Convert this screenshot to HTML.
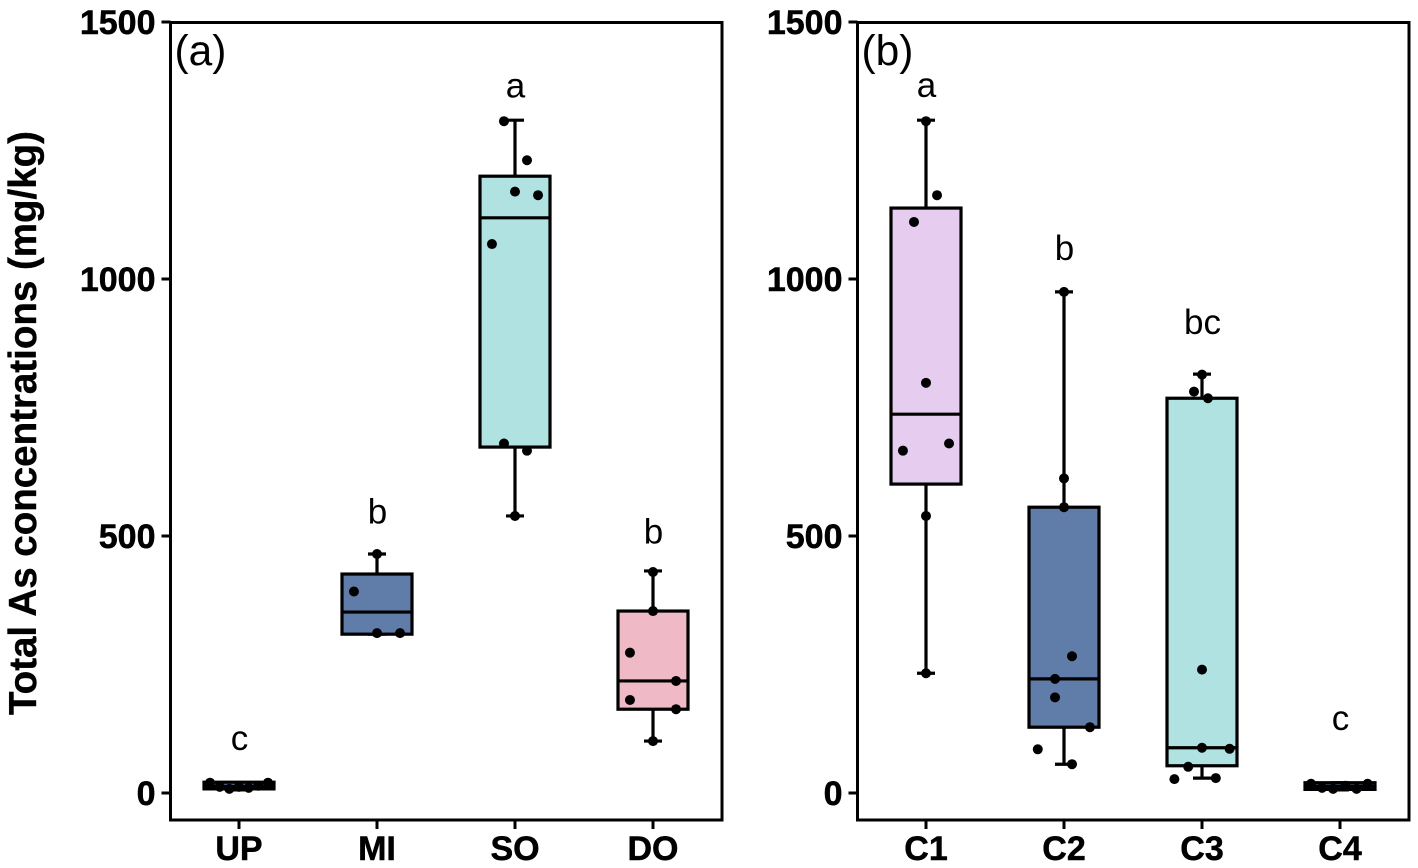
<!DOCTYPE html>
<html lang="en">
<head>
<meta charset="utf-8">
<title>Total As concentrations</title>
<style>
html,body{margin:0;padding:0;background:#fff;}
svg{display:block;font-family:"Liberation Sans",Arial,sans-serif;}
</style>
</head>
<body>
<svg id="chart" xmlns="http://www.w3.org/2000/svg" width="1418" height="868" viewBox="0 0 1418 868">
<rect x="0" y="0" width="1418" height="868" fill="#fff"/>
<text transform="translate(36,423) rotate(-90)" text-anchor="middle" font-size="38.5" font-weight="700" fill="#000" stroke="#000" stroke-width="0.4">Total As concentrations (mg/kg)</text>
</svg>
<script>
const yTicks = [0, 500, 1000, 1500];

const panelATitle = "(a)";
const panelACategories = ["UP", "MI", "SO", "DO"];
const panelALetters = ["c", "b", "a", "b"];
const panelAColors = ["#607CA8", "#607CA8", "#B0E2E2", "#EFB9C6"];
const panelALetterValues = [84, 524, 1353, 485];
const panelAWhiskerLow = [6, 309, 539, 101];
const panelAQ1 = [8, 309, 673, 163];
const panelAMedian = [13, 352, 1119, 218];
const panelAQ3 = [21, 426, 1200, 354];
const panelAWhiskerHigh = [20, 465, 1309, 432];
const panelAPointValues = [
  [20, 12, 8, 12, 10, 14, 20],
  [392, 311, 311, 465],
  [1307, 1231, 1170, 1163, 1068, 680, 666, 539],
  [430, 354, 273, 218, 181, 163, 101]
];
const panelAPointJitter = [
  [-0.21, -0.14, -0.07, 0, 0.07, 0.14, 0.21],
  [-0.167, 0, 0.167, 0],
  [-0.08, 0.087, 0, 0.167, -0.167, -0.08, 0.087, 0],
  [0, 0, -0.167, 0.167, -0.167, 0.167, 0]
];

const panelBTitle = "(b)";
const panelBCategories = ["C1", "C2", "C3", "C4"];
const panelBLetters = ["a", "b", "bc", "c"];
const panelBColors = ["#E6CDF0", "#607CA8", "#B0E2E2", "#607CA8"];
const panelBLetterValues = [1354, 1037, 893, 123];
const panelBWhiskerLow = [233, 56, 29, 6];
const panelBQ1 = [601, 128, 53, 7];
const panelBMedian = [737, 222, 88, 13];
const panelBQ3 = [1138, 556, 768, 20];
const panelBWhiskerHigh = [1309, 975, 815, 20];
const panelBPointValues = [
  [1307, 1163, 1111, 798, 666, 680, 539, 233],
  [975, 612, 556, 266, 222, 186, 128, 85, 56],
  [814, 781, 768, 240, 88, 86, 51, 27, 29],
  [18, 10, 8, 14, 8, 18]
];
const panelBPointJitter = [
  [0, 0.08, -0.087, 0, -0.167, 0.167, 0, 0],
  [0, 0, 0, 0.058, -0.065, -0.065, 0.188, -0.19, 0.058],
  [0, -0.058, 0.043, 0, 0, 0.2, -0.1, -0.2, 0.1],
  [-0.21, -0.13, -0.05, 0.04, 0.12, 0.2]
];

const NS = "http://www.w3.org/2000/svg";
const root = document.getElementById("chart");
const yScale = v => 793 - v * 0.514;

function make(parent, tag, props, content) {
  const el = document.createElementNS(NS, tag);
  for (const k in props) el.setAttribute(k, props[k]);
  if (content !== undefined) el.textContent = content;
  parent.appendChild(el);
  return el;
}

function drawPanel(p) {
  const g = make(root, "g", {});
  
  
  const left = p.left, right = p.left + 551.5, top = 22.5, bottom = 820;
  const xScale = i => left + 68.5 + i * 138;
  const band = 138;
  const halfBox = 35;
  const halfCap = 9;

  const frame = make(g, "rect", {x: left, y: top, width: right - left, height: bottom - top, fill: "none", stroke: "#000", "stroke-width": 3});
  
  

  yTicks.forEach(t => {
    const tick = make(g, "line", {x1: left - 9, x2: left, y1: yScale(t), y2: yScale(t), stroke: "#000", "stroke-width": 3});
    
    
    const label = make(g, "text", {x: left - 15, y: yScale(t) + 12, "text-anchor": "end", "font-size": 34, "font-weight": 700, fill: "#000", stroke: "#000", "stroke-width": 0.5}, String(t));
    
    
  });

  const title = make(g, "text", {x: left + 4, y: 65, "font-size": 42.5, fill: "#000"}, p.title);
  
  

  p.categories.forEach((c, i) => {
    const x = xScale(i);
    const tick = make(g, "line", {x1: x, x2: x, y1: bottom, y2: bottom + 9, stroke: "#000", "stroke-width": 3});
    
    
    const label = make(g, "text", {x: x, y: 860, "text-anchor": "middle", "font-size": 34, "font-weight": 700, fill: "#000", stroke: "#000", "stroke-width": 0.5}, c);
    
    

    const stem = make(g, "path", {
      d: "M" + x + " " + yScale(p.q3[i]) + "V" + yScale(p.whiskerHigh[i]) + "M" + (x - halfCap) + " " + yScale(p.whiskerHigh[i]) + "H" + (x + halfCap) +
         "M" + x + " " + yScale(p.q1[i]) + "V" + yScale(p.whiskerLow[i]) + "M" + (x - halfCap) + " " + yScale(p.whiskerLow[i]) + "H" + (x + halfCap),
      fill: "none", stroke: "#000", "stroke-width": 3.2});
    
    

    const box = make(g, "rect", {x: x - halfBox, y: yScale(p.q3[i]), width: halfBox * 2, height: yScale(p.q1[i]) - yScale(p.q3[i]), fill: p.colors[i], stroke: "#000", "stroke-width": 3.2});
    
    

    const med = make(g, "line", {x1: x - halfBox, x2: x + halfBox, y1: yScale(p.median[i]), y2: yScale(p.median[i]), stroke: "#000", "stroke-width": 3.2});
    
    

    p.pointValues[i].forEach((v, j) => {
      const dot = make(g, "circle", {cx: x + p.pointJitter[i][j] * band, cy: yScale(v), r: 5, fill: "#000"});
      
      
    });

    const letter = make(g, "text", {x: x + 0.5, y: yScale(p.letterValues[i]), "text-anchor": "middle", "font-size": 35, fill: "#000"}, p.letters[i]);
    
    
  });
}

drawPanel({
  name: "panel-a", left: 170.5, title: panelATitle, categories: panelACategories, letters: panelALetters,
  colors: panelAColors, letterValues: panelALetterValues, whiskerLow: panelAWhiskerLow, q1: panelAQ1,
  median: panelAMedian, q3: panelAQ3, whiskerHigh: panelAWhiskerHigh,
  pointValues: panelAPointValues, pointJitter: panelAPointJitter
});
drawPanel({
  name: "panel-b", left: 857.5, title: panelBTitle, categories: panelBCategories, letters: panelBLetters,
  colors: panelBColors, letterValues: panelBLetterValues, whiskerLow: panelBWhiskerLow, q1: panelBQ1,
  median: panelBMedian, q3: panelBQ3, whiskerHigh: panelBWhiskerHigh,
  pointValues: panelBPointValues, pointJitter: panelBPointJitter
});
</script>
</body>
</html>
